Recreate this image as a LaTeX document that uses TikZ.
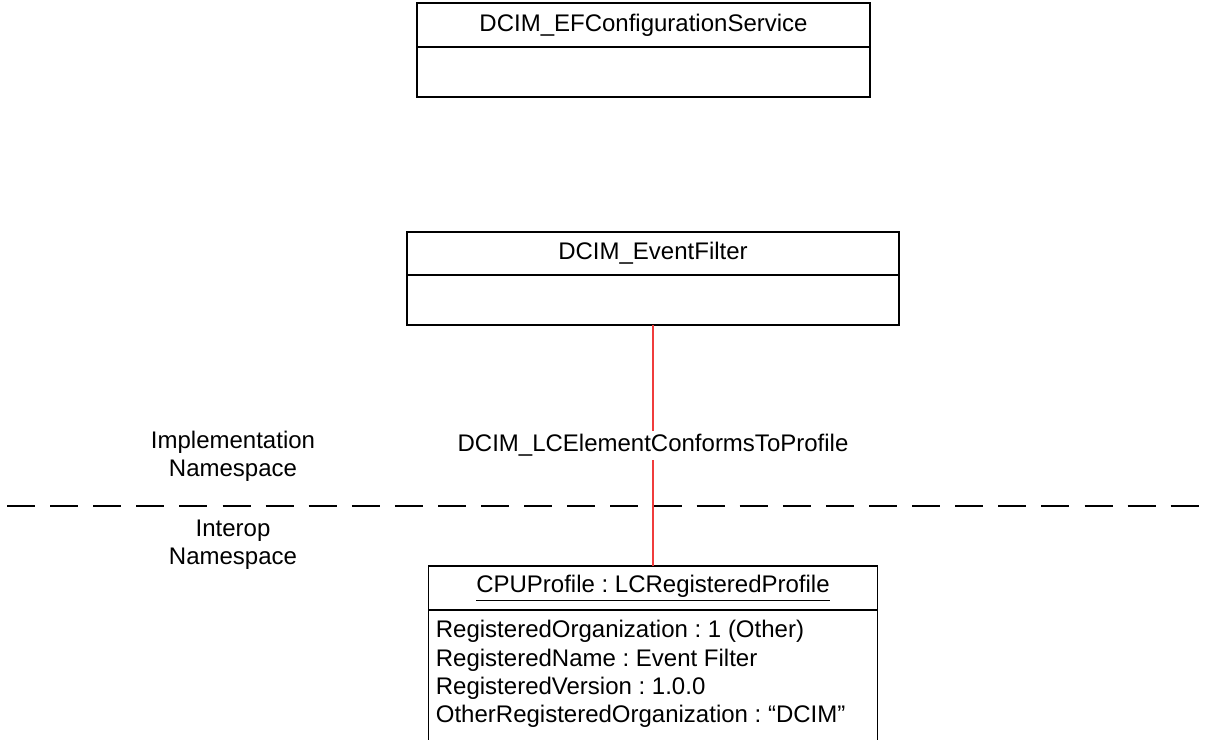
\documentclass[tikz,border=0pt]{standalone}
\usepackage{fontspec}
\setmainfont{Liberation Sans}
\usetikzlibrary{positioning}
\frenchspacing

\definecolor{assocred}{RGB}{240,60,60}
\tikzset{
  umlfont/.style={font=\fontsize{12}{14.2}\selectfont},
  classhead/.style={draw, line width=0.6pt, outer sep=0pt, inner sep=0pt, minimum height=22pt, umlfont},
  classbody/.style={draw, line width=0.6pt, outer sep=0pt, inner sep=0pt, minimum height=25pt},
  nslabel/.style={align=center, umlfont},
  assoc/.style={color=assocred, line width=0.6pt},
  assoclabel/.style={fill=white, text=black, inner xsep=2pt, inner ysep=1.5pt, umlfont},
}

\begin{document}
\begin{tikzpicture}[x=0.5pt, y=-0.5pt]
  \clip (0,0) rectangle (1212,740);

  \node[classhead, minimum width=226.5pt] (efcshead) at (643.5,25) {DCIM\_EFConfigurationService};
  \node[classbody, minimum width=226.5pt, below=0pt of efcshead] (efcsbody) {};

  \node[classhead, minimum width=246pt, minimum height=21.5pt] (efhead) at (653,253.5) {DCIM\_EventFilter};
  \node[classbody, minimum width=246pt, below=0pt of efhead] (efbody) {};

  \node[classhead, minimum width=224.5pt] (cpuhead) at (653,588) {\underline{CPUProfile : LCRegisteredProfile}};
  \node[anchor=north west, align=left, inner xsep=3.5pt, inner ysep=5pt, umlfont] (cpuattr) at (cpuhead.south west)
    {RegisteredOrganization : 1 (Other)\\
     RegisteredName : Event Filter\\
     RegisteredVersion : 1.0.0\\
     OtherRegisteredOrganization : “DCIM”};
  \draw[line width=0.6pt] (cpuhead.south west) -- ++(0,200) (cpuhead.south east) -- ++(0,200);

  \node[nslabel] (implns) at (233,456) {Implementation\\Namespace};
  \node[nslabel] (interns) at (233,545) {Interop\\Namespace};

  \coordinate (dashl) at (7,506);
  \coordinate (dashr) at (1199,506);
  \draw[line width=0.6pt, dash pattern=on 14pt off 7.55pt] (dashl) -- (dashr);

  \draw[assoc] (efbody) -- node[assoclabel] {DCIM\_LCElementConformsToProfile} (cpuhead);
\end{tikzpicture}
\end{document}
